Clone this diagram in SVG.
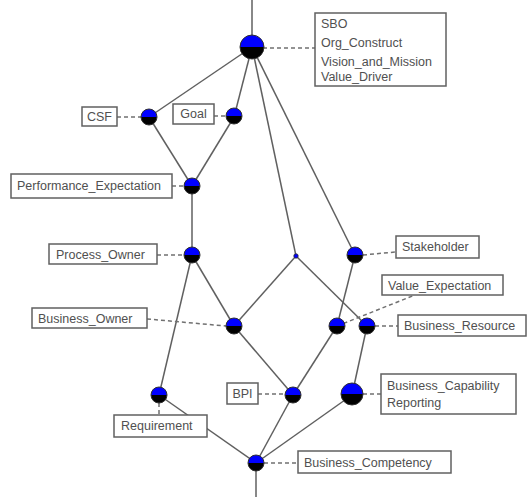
<svg xmlns="http://www.w3.org/2000/svg" width="528" height="497" viewBox="0 0 528 497">
<style>
.e{stroke:#606060;stroke-width:1.5;fill:none}
.d{stroke:#707070;stroke-width:1.5;fill:none;stroke-dasharray:4 3}
.b{fill:#fff;stroke:#606060;stroke-width:1.5}
.t{font-family:"Liberation Sans",Arial,sans-serif;font-size:12.5px;fill:#505050}
.top{fill:#0000ff}
.bot{fill:#000}
.ol{fill:none;stroke:#303030;stroke-width:1}
</style>
<rect width="528" height="497" fill="#fff"/>
<g id="connectors">
<line class="e" x1="252" y1="0" x2="252" y2="47"/>
<line class="e" x1="252" y1="47" x2="149" y2="117"/>
<line class="e" x1="252" y1="47" x2="234" y2="117"/>
<line class="e" x1="252" y1="47" x2="296" y2="256"/>
<line class="e" x1="252" y1="47" x2="355" y2="255"/>
<line class="e" x1="149" y1="117" x2="192" y2="186"/>
<line class="e" x1="234" y1="117" x2="192" y2="186"/>
<line class="e" x1="192" y1="186" x2="192" y2="255"/>
<line class="e" x1="192" y1="255" x2="234" y2="326"/>
<line class="e" x1="192" y1="255" x2="159" y2="395"/>
<line class="e" x1="296" y1="256" x2="234" y2="326"/>
<line class="e" x1="296" y1="256" x2="367" y2="326"/>
<line class="e" x1="355" y1="255" x2="337" y2="326"/>
<line class="e" x1="234" y1="326" x2="293" y2="395"/>
<line class="e" x1="337" y1="326" x2="293" y2="395"/>
<line class="e" x1="367" y1="326" x2="352" y2="395"/>
<line class="e" x1="159" y1="395" x2="256" y2="463"/>
<line class="e" x1="293" y1="395" x2="256" y2="463"/>
<line class="e" x1="352" y1="395" x2="256" y2="463"/>
<line class="e" x1="256" y1="463" x2="256" y2="497"/>
<line class="d" x1="263" y1="48" x2="315" y2="48"/>
<line class="d" x1="117" y1="117" x2="141" y2="117"/>
<line class="d" x1="214" y1="116" x2="226" y2="116"/>
<line class="d" x1="172" y1="186" x2="184" y2="186"/>
<line class="d" x1="157" y1="255" x2="184" y2="255"/>
<line class="d" x1="147" y1="319" x2="226" y2="326"/>
<line class="d" x1="363" y1="255" x2="396" y2="252"/>
<line class="d" x1="337" y1="326" x2="415" y2="295"/>
<line class="d" x1="375" y1="326" x2="398" y2="326"/>
<line class="d" x1="159" y1="403" x2="159" y2="415"/>
<line class="d" x1="258" y1="394" x2="285" y2="394"/>
<line class="d" x1="363" y1="394" x2="381" y2="394"/>
<line class="d" x1="264" y1="463" x2="298" y2="463"/>
</g>
<g id="SBO">
<path class="top" d="M240,47 A12,12 0 0 1 264,47 Z"/>
<path class="bot" d="M240,47 A12,12 0 0 0 264,47 Z"/>
<circle class="ol" cx="252" cy="47" r="12"/>
<rect class="b" x="315" y="13" width="131" height="73"/>
<text class="t" x="321" y="28">SBO</text>
<text class="t" x="321" y="47">Org_Construct</text>
<text class="t" x="321" y="66">Vision_and_Mission</text>
<text class="t" x="321" y="81">Value_Driver</text>
</g>
<g id="CSF">
<path class="top" d="M141,117 A8,8 0 0 1 157,117 Z"/>
<path class="bot" d="M141,117 A8,8 0 0 0 157,117 Z"/>
<circle class="ol" cx="149" cy="117" r="8"/>
<rect class="b" x="82" y="107" width="35" height="19"/>
<text class="t" x="99.5" y="121" text-anchor="middle">CSF</text>
</g>
<g id="Goal">
<path class="top" d="M226,116 A8,8 0 0 1 242,116 Z"/>
<path class="bot" d="M226,116 A8,8 0 0 0 242,116 Z"/>
<circle class="ol" cx="234" cy="116" r="8"/>
<rect class="b" x="173" y="104" width="41" height="20"/>
<text class="t" x="193.5" y="118" text-anchor="middle">Goal</text>
</g>
<g id="Performance_Expectation">
<path class="top" d="M184,186 A8,8 0 0 1 200,186 Z"/>
<path class="bot" d="M184,186 A8,8 0 0 0 200,186 Z"/>
<circle class="ol" cx="192" cy="186" r="8"/>
<rect class="b" x="11" y="174" width="161" height="24"/>
<text class="t" x="17" y="190">Performance_Expectation</text>
</g>
<g id="Process_Owner">
<path class="top" d="M184,255 A8,8 0 0 1 200,255 Z"/>
<path class="bot" d="M184,255 A8,8 0 0 0 200,255 Z"/>
<circle class="ol" cx="192" cy="255" r="8"/>
<rect class="b" x="49" y="244" width="108" height="20"/>
<text class="t" x="56" y="258.5">Process_Owner</text>
</g>
<g id="Junction">
<circle cx="296" cy="256" r="2.2" fill="#0000ff" stroke="#303030" stroke-width="0.8"/>
</g>
<g id="Stakeholder">
<path class="top" d="M347,255 A8,8 0 0 1 363,255 Z"/>
<path class="bot" d="M347,255 A8,8 0 0 0 363,255 Z"/>
<circle class="ol" cx="355" cy="255" r="8"/>
<rect class="b" x="396" y="236" width="83" height="22"/>
<text class="t" x="402" y="251">Stakeholder</text>
</g>
<g id="Business_Owner">
<path class="top" d="M226,326 A8,8 0 0 1 242,326 Z"/>
<path class="bot" d="M226,326 A8,8 0 0 0 242,326 Z"/>
<circle class="ol" cx="234" cy="326" r="8"/>
<rect class="b" x="32" y="308" width="115" height="20"/>
<text class="t" x="38" y="322.5">Business_Owner</text>
</g>
<g id="Value_Expectation">
<path class="top" d="M329,326 A8,8 0 0 1 345,326 Z"/>
<path class="bot" d="M329,326 A8,8 0 0 0 345,326 Z"/>
<circle class="ol" cx="337" cy="326" r="8"/>
<rect class="b" x="382" y="275" width="121" height="20"/>
<text class="t" x="388" y="289.5">Value_Expectation</text>
</g>
<g id="Business_Resource">
<path class="top" d="M359,326 A8,8 0 0 1 375,326 Z"/>
<path class="bot" d="M359,326 A8,8 0 0 0 375,326 Z"/>
<circle class="ol" cx="367" cy="326" r="8"/>
<rect class="b" x="398" y="315" width="128" height="21"/>
<text class="t" x="404" y="330">Business_Resource</text>
</g>
<g id="Requirement">
<path class="top" d="M151,395 A8,8 0 0 1 167,395 Z"/>
<path class="bot" d="M151,395 A8,8 0 0 0 167,395 Z"/>
<circle class="ol" cx="159" cy="395" r="8"/>
<rect class="b" x="114" y="415" width="93" height="22"/>
<text class="t" x="121" y="430">Requirement</text>
</g>
<g id="BPI">
<path class="top" d="M285,395 A8,8 0 0 1 301,395 Z"/>
<path class="bot" d="M285,395 A8,8 0 0 0 301,395 Z"/>
<circle class="ol" cx="293" cy="395" r="8"/>
<rect class="b" x="227" y="383" width="31" height="21"/>
<text class="t" x="242.5" y="398" text-anchor="middle">BPI</text>
</g>
<g id="Business_Capability">
<path class="top" d="M341,394 A11,11 0 0 1 363,394 Z"/>
<path class="bot" d="M341,394 A11,11 0 0 0 363,394 Z"/>
<circle class="ol" cx="352" cy="394" r="11"/>
<rect class="b" x="381" y="374" width="135" height="40"/>
<text class="t" x="387" y="390">Business_Capability</text>
<text class="t" x="387" y="407">Reporting</text>
</g>
<g id="Business_Competency">
<path class="top" d="M248,463 A8,8 0 0 1 264,463 Z"/>
<path class="bot" d="M248,463 A8,8 0 0 0 264,463 Z"/>
<circle class="ol" cx="256" cy="463" r="8"/>
<rect class="b" x="298" y="451" width="153" height="22"/>
<text class="t" x="304" y="466.5">Business_Competency</text>
</g>
</svg>
